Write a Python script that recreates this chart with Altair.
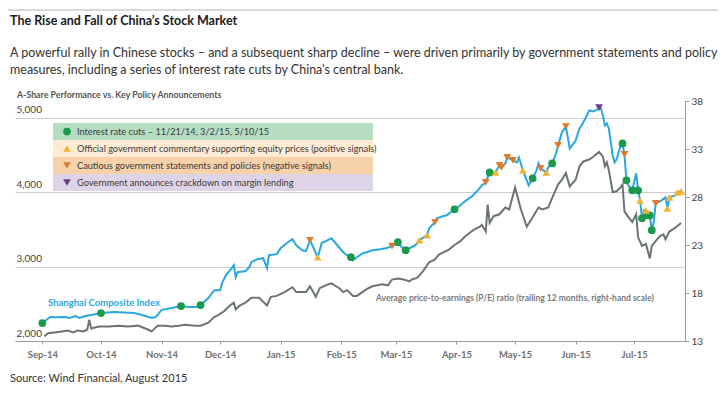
import altair as alt
import pandas as pd

# ---------------- data ----------------
sh_dates = [
    "2014-09-01", "2014-09-05", "2014-09-08", "2014-09-13", "2014-09-15", "2014-09-18", "2014-09-20",
    "2014-09-23", "2014-09-26", "2014-10-01", "2014-10-08", "2014-10-18", "2014-10-22", "2014-10-27",
    "2014-10-29", "2014-11-01", "2014-11-06", "2014-11-11", "2014-11-15", "2014-11-19", "2014-11-21",
    "2014-11-25", "2014-11-28", "2014-12-01", "2014-12-02", "2014-12-04", "2014-12-07", "2014-12-08",
    "2014-12-09", "2014-12-10", "2014-12-14", "2014-12-16", "2014-12-17", "2014-12-20", "2014-12-23",
    "2014-12-25", "2014-12-26", "2014-12-30", "2015-01-01", "2015-01-04", "2015-01-07", "2015-01-09",
    "2015-01-12", "2015-01-14", "2015-01-16", "2015-01-20", "2015-01-22", "2015-01-23", "2015-01-27",
    "2015-01-30", "2015-02-02", "2015-02-04", "2015-02-06", "2015-02-07", "2015-02-09", "2015-02-12",
    "2015-02-14", "2015-02-17", "2015-02-21", "2015-02-24", "2015-02-27", "2015-03-02", "2015-03-04",
    "2015-03-06", "2015-03-09", "2015-03-11", "2015-03-13", "2015-03-17", "2015-03-18", "2015-03-21",
    "2015-03-22", "2015-03-25", "2015-03-27", "2015-03-29", "2015-03-31", "2015-04-03", "2015-04-06",
    "2015-04-09", "2015-04-12", "2015-04-14", "2015-04-16", "2015-04-18", "2015-04-19", "2015-04-21",
    "2015-04-23", "2015-04-24", "2015-04-26", "2015-04-27", "2015-04-30", "2015-05-02", "2015-05-03",
    "2015-05-05", "2015-05-07", "2015-05-08", "2015-05-10", "2015-05-12", "2015-05-13", "2015-05-14",
    "2015-05-17", "2015-05-18", "2015-05-20", "2015-05-22", "2015-05-23", "2015-05-25", "2015-05-27",
    "2015-05-28", "2015-05-29", "2015-06-01", "2015-06-03", "2015-06-04", "2015-06-06", "2015-06-08",
    "2015-06-10", "2015-06-12", "2015-06-13", "2015-06-14", "2015-06-15", "2015-06-16", "2015-06-17",
    "2015-06-18", "2015-06-20", "2015-06-21", "2015-06-22", "2015-06-24", "2015-06-25", "2015-06-26",
    "2015-06-27", "2015-06-28", "2015-06-30", "2015-07-02", "2015-07-03", "2015-07-04", "2015-07-05",
    "2015-07-06", "2015-07-07", "2015-07-08", "2015-07-09", "2015-07-10", "2015-07-11", "2015-07-12",
    "2015-07-15", "2015-07-17", "2015-07-18", "2015-07-19", "2015-07-22", "2015-07-23", "2015-07-25",
]
sh_values = [
    2242, 2322, 2320, 2322, 2309, 2336, 2309,
    2336, 2349, 2376, 2389, 2376, 2349, 2309,
    2322, 2416, 2443, 2470, 2456, 2456, 2483,
    2577, 2684, 2684, 2778, 2886, 2980, 3020,
    2859, 2926, 2940, 2993, 3060, 3100, 3114,
    2980, 3154, 3168, 3248, 3315, 3369, 3288,
    3221, 3208, 3355, 3127, 3315, 3329, 3382,
    3288, 3194, 3154, 3127, 3087, 3127, 3181,
    3194, 3221, 3235, 3248, 3275, 3329, 3261,
    3221, 3261, 3288, 3355, 3423, 3516, 3597,
    3651, 3678, 3691, 3731, 3771, 3825, 3892,
    3946, 4026, 4093, 4134, 4268, 4255, 4268,
    4362, 4335, 4389, 4469, 4429, 4402, 4469,
    4295, 4161, 4093, 4188, 4295, 4389, 4322,
    4268, 4335, 4389, 4523, 4630, 4805, 4885,
    4738, 4590, 4697, 4858, 4899, 4993, 5100,
    5087, 5113, 5127, 5127, 5033, 4899, 4926,
    4858, 4496, 4402, 4442, 4630, 4657, 4510,
    4161, 4093, 4026, 4255, 4026, 3892, 3651,
    3758, 3758, 3691, 3691, 3490, 3597, 3852,
    3892, 3932, 3785, 3932, 3959, 4000, 4013,
]

pe_dates = [
    "2014-09-02", "2014-09-04", "2014-09-08", "2014-09-11", "2014-09-14", "2014-09-17", "2014-09-19",
    "2014-09-22", "2014-09-24", "2014-09-25", "2014-09-26", "2014-09-30", "2014-10-05", "2014-10-10",
    "2014-10-15", "2014-10-20", "2014-10-25", "2014-10-27", "2014-10-30", "2014-11-03", "2014-11-06",
    "2014-11-10", "2014-11-13", "2014-11-18", "2014-11-21", "2014-11-25", "2014-11-28", "2014-11-30",
    "2014-12-03", "2014-12-06", "2014-12-08", "2014-12-09", "2014-12-11", "2014-12-14", "2014-12-17",
    "2014-12-21", "2014-12-25", "2014-12-27", "2014-12-30", "2015-01-03", "2015-01-07", "2015-01-09",
    "2015-01-14", "2015-01-16", "2015-01-19", "2015-01-21", "2015-01-24", "2015-01-27", "2015-01-31",
    "2015-02-02", "2015-02-04", "2015-02-07", "2015-02-09", "2015-02-14", "2015-02-17", "2015-02-22",
    "2015-02-25", "2015-02-27", "2015-03-02", "2015-03-05", "2015-03-08", "2015-03-09", "2015-03-12",
    "2015-03-15", "2015-03-18", "2015-03-21", "2015-03-23", "2015-03-26", "2015-03-28", "2015-03-31",
    "2015-04-03", "2015-04-05", "2015-04-08", "2015-04-10", "2015-04-13", "2015-04-14", "2015-04-16",
    "2015-04-17", "2015-04-18", "2015-04-20", "2015-04-23", "2015-04-26", "2015-04-28", "2015-05-01",
    "2015-05-04", "2015-05-07", "2015-05-10", "2015-05-13", "2015-05-15", "2015-05-18", "2015-05-20",
    "2015-05-23", "2015-05-25", "2015-05-27", "2015-05-29", "2015-06-01", "2015-06-03", "2015-06-05",
    "2015-06-08", "2015-06-10", "2015-06-13", "2015-06-15", "2015-06-16", "2015-06-17", "2015-06-18",
    "2015-06-20", "2015-06-22", "2015-06-24", "2015-06-25", "2015-06-26", "2015-06-28", "2015-06-30",
    "2015-07-02", "2015-07-03", "2015-07-05", "2015-07-07", "2015-07-09", "2015-07-10", "2015-07-12",
    "2015-07-14", "2015-07-16", "2015-07-17", "2015-07-19", "2015-07-22", "2015-07-25",
]
pe_values = [
    13.5, 13.8, 13.9, 14.0, 14.1, 13.9, 14.1,
    14.0, 14.2, 15.2, 14.3, 14.5, 14.5, 14.6,
    14.5, 14.6, 14.2, 14.0, 14.6, 14.6, 14.5,
    14.6, 14.7, 14.6, 14.6, 14.9, 15.5, 15.7,
    16.1, 16.7, 17.0, 16.3, 16.7, 17.0, 17.5,
    17.5, 16.7, 17.6, 17.7, 18.1, 18.6, 18.1,
    18.1, 18.7, 17.6, 18.5, 18.8, 19.0, 18.5,
    18.1, 18.3, 17.7, 17.7, 18.4, 18.7, 18.9,
    18.8, 19.4, 19.5, 19.4, 19.2, 19.4, 19.6,
    20.3, 21.2, 21.5, 22.0, 22.3, 22.5, 23.0,
    23.4, 23.8, 24.3, 24.6, 24.9, 25.1, 24.4,
    27.2, 25.3, 26.0, 26.2, 26.9, 26.7, 29.0,
    26.7, 24.9, 25.9, 26.9, 26.7, 26.9, 27.9,
    29.3, 29.8, 30.5, 29.1, 29.8, 31.2, 31.7,
    31.9, 32.2, 32.7, 32.2, 31.2, 31.6, 30.8,
    28.5, 28.6, 29.0, 29.3, 26.5, 25.9, 25.4,
    26.2, 23.8, 22.9, 23.1, 21.6, 22.9, 23.4,
    23.9, 24.1, 23.6, 24.4, 24.8, 25.3,
]

ev_dates = [
    # interest rate cuts / easing
    "2014-09-01", "2014-10-01", "2014-11-11", "2014-11-21", "2015-02-06", "2015-03-02", "2015-03-06",
    "2015-03-31", "2015-04-18", "2015-05-10", "2015-05-20", "2015-06-25", "2015-06-27", "2015-06-30",
    "2015-07-03", "2015-07-05", "2015-07-08", "2015-07-09", "2015-07-10",
    # positive signals
    "2015-01-20", "2015-03-13", "2015-03-17", "2015-04-21", "2015-05-05", "2015-05-17", "2015-07-04",
    "2015-07-07", "2015-07-18", "2015-07-19", "2015-07-23", "2015-07-25",
    # negative signals
    "2015-01-16", "2015-02-27", "2015-03-21", "2015-04-16", "2015-04-23", "2015-04-24", "2015-04-27",
    "2015-04-30", "2015-05-14", "2015-05-23", "2015-05-27", "2015-06-26", "2015-07-12",
    # margin lending crackdown
    "2015-06-13",
]
ev_values = [
    2242, 2376, 2470, 2483, 3127, 3329, 3221,
    3771, 4268, 4188, 4389, 4657, 4161, 4026,
    4026, 3651, 3691, 3691, 3490,
    3127, 3355, 3423, 4268, 4295, 4268, 3892,
    3758, 3785, 3932, 4000, 4013,
    3355, 3275, 3597, 4134, 4362, 4335, 4469,
    4429, 4322, 4630, 4885, 4510, 3852,
    5140,
]
ev_types = (["cut"] * 19) + (["pos"] * 12) + (["neg"] * 13) + (["margin"] * 1)

event_keys = ["cut", "pos", "neg", "margin"]
event_labels = [
    "Interest rate cuts \u2013 11/21/14, 3/2/15, 5/10/15",
    "Official government commentary supporting equity prices (positive signals)",
    "Cautious government statements and policies (negative signals)",
    "Government announces crackdown on margin lending",
]
event_colors = ["#1a9a4b", "#f3b234", "#e07a2b", "#6b3b8f"]
event_shapes = ["circle", "triangle-up", "triangle-down", "triangle-down"]
event_bg = ["#b6dcc2", "#fdebd4", "#f7d1a9", "#ddd5e7"]

month_ticks = ["2014-09-01", "2014-10-01", "2014-11-01", "2014-12-01", "2015-01-01", "2015-02-01",
               "2015-03-01", "2015-04-01", "2015-05-01", "2015-06-01", "2015-07-01"]
left_ticks = [2000, 3000, 4000, 5000]
right_ticks = [13, 18, 23, 28, 33, 38]

# ---------------- styling ----------------
BLUE = "#2aa7de"
GRAY = "#6c7377"
FONT = "Lato"

W, H = 670, 240
PAD_L, PAD_T = 7, 93


def dt(s):
    y, m, d = (int(v) for v in s.split("-"))
    return alt.DateTime(year=y, month=m, date=d, utc=True)


def px(page_x):
    return page_x - 8 - PAD_L


def py(page_y):
    return page_y - 8 - PAD_T


sh = pd.DataFrame({"date": sh_dates, "value": sh_values})
pe = pd.DataFrame({"date": pe_dates, "value": pe_values})
ev = pd.DataFrame({"date": ev_dates, "value": ev_values, "type": ev_types})
one = pd.DataFrame({"k": [0]})

x_enc = alt.X(
    "date:T",
    scale=alt.Scale(type="utc", domain=[dt("2014-08-18"), dt("2015-07-27")]),
    axis=alt.Axis(
        values=[dt(s) for s in month_ticks],
        labelExpr="utcFormat(datum.value, '%b-%y')",
        title=None, grid=False, domainColor="#9a9a9a", tickColor="#9a9a9a", tickSize=3,
        labelFont=FONT, labelFontSize=9.5, labelFontWeight="bold", labelColor="#707070",
        labelPadding=5, labelFlush=False,
    ),
)

left_scale = alt.Scale(domain=[2000, 5228], nice=False, zero=False)
right_scale = alt.Scale(domain=[13, 38], nice=False, zero=False)

blue = alt.Chart(sh).mark_line(color=BLUE, strokeWidth=2).encode(
    x=x_enc,
    y=alt.Y("value:Q", scale=left_scale, axis=alt.Axis(
        orient="left", values=left_ticks, labelExpr="format(datum.value, ',')", title=None,
        grid=True, gridColor="#cdcdcd", gridWidth=1, domain=False, ticks=False, tickSize=0,
        labelAlign="left", labelBaseline="bottom", labelPadding=-1, labelOffset=-3,
        labelFont=FONT, labelFontSize=10, labelColor="#444444",
    )),
)

gray = alt.Chart(pe).mark_line(color=GRAY, strokeWidth=2).encode(
    x=x_enc,
    y=alt.Y("value:Q", scale=right_scale, axis=alt.Axis(
        orient="right", values=right_ticks, title=None, grid=False,
        domainColor="#9a9a9a", tickColor="#9a9a9a", tickSize=4, labelPadding=2,
        labelFont=FONT, labelFontSize=10, labelColor="#444444",
    )),
)

markers = alt.Chart(ev).mark_point(filled=True, opacity=1, size=60).encode(
    x=x_enc,
    y=alt.Y("value:Q", scale=left_scale, axis=None),
    shape=alt.Shape("type:N", scale=alt.Scale(domain=event_keys, range=event_shapes), legend=None),
    color=alt.Color("type:N", scale=alt.Scale(domain=event_keys, range=event_colors), legend=None),
)

layers = [gray, blue, markers]


def text(t, x, y, size, color, weight="normal", align="left"):
    return alt.Chart(one).mark_text(
        text=t, align=align, baseline="middle", font=FONT, fontSize=size,
        fontWeight=weight, color=color,
    ).encode(x=alt.value(px(x)), y=alt.value(py(y)))


# top rule
layers.append(alt.Chart(one).mark_rule(color="#d9d9d9", strokeWidth=2).encode(
    x=alt.value(px(8)), x2=alt.value(px(718)), y=alt.value(py(10))))

layers.append(text("The Rise and Fall of China\u2019s Stock Market", 10, 21, 12.5, "#1a1a1a", weight="bold"))
layers.append(text("A powerful rally in Chinese stocks \u2013 and a subsequent sharp decline \u2013 were driven primarily by government statements and policy",
                   10, 53, 12.5, "#333333"))
layers.append(text("measures, including a series of interest rate cuts by China\u2019s central bank.",
                   10, 70, 12.5, "#333333"))
layers.append(text("A-Share Performance vs. Key Policy Announcements", 17, 95, 8.8, "#555555", weight="bold"))
layers.append(text("Source: Wind Financial, August 2015", 10, 379, 11, "#333333"))
layers.append(text("Shanghai Composite Index", 48, 303, 9.5, BLUE, weight="bold"))
layers.append(text("Average price-to-earnings (P/E) ratio (trailing 12 months, right-hand scale)",
                   376, 298, 8.5, "#7a7a7a", weight="bold"))

# legend box
row_top = [123, 140, 157, 174]
row_h = 17
for i in range(4):
    y0 = row_top[i]
    layers.append(alt.Chart(one).mark_rect(color=event_bg[i]).encode(
        x=alt.value(px(53)), x2=alt.value(px(373)),
        y=alt.value(py(y0)), y2=alt.value(py(y0 + row_h))))
    layers.append(alt.Chart(one).mark_point(filled=True, opacity=1, size=60, shape=event_shapes[i],
                                            color=event_colors[i]).encode(
        x=alt.value(px(67)), y=alt.value(py(y0 + row_h / 2))))
    layers.append(text(event_labels[i], 77, y0 + row_h / 2, 9.2, "#3a3a3a"))

chart = alt.layer(*layers).resolve_scale(y="independent").properties(
    width=W, height=H,
    padding={"left": PAD_L, "top": PAD_T, "right": 35, "bottom": 49},
    autosize=alt.AutoSizeParams(type="none"),
    background="white",
).configure_view(stroke=None)

chart.save("out.html", embed_options={"renderer": "svg", "actions": False})
